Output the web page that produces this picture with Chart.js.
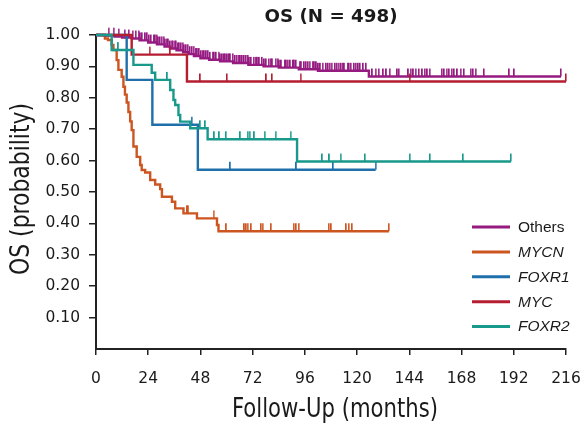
<!DOCTYPE html>
<html>
<head>
<meta charset="utf-8">
<script src="https://cdn.jsdelivr.net/npm/chart.js@4.4.1/dist/chart.umd.min.js"></script>
<style>
  body { margin: 0; background: #fff; }
  canvas { display: block; }
</style>
</head>
<body>
<canvas id="chartOS" width="583" height="426"></canvas>
<script>
// ejes
const xTicks = [0, 24, 48, 72, 96, 120, 144, 168, 192, 216];
const yTicks = [0.1, 0.2, 0.3, 0.4, 0.5, 0.6, 0.7, 0.8, 0.9, 1.0];
const grupos = ["Others", "MYCN", "FOXR1", "MYC", "FOXR2"];

// Others
const othersT = [0, 4, 8.5, 12, 16.5, 20, 24, 28, 31.5, 34, 37, 40, 42.5, 45, 48, 52, 57, 63, 70, 77, 84, 93.2, 102, 125.4];
const othersS = [1, 0.998, 0.995, 0.992, 0.989, 0.983, 0.976, 0.970, 0.963, 0.957, 0.951, 0.945, 0.939, 0.933, 0.926, 0.921, 0.916, 0.911, 0.905, 0.900, 0.896, 0.891, 0.886, 0.868];
const othersCens = [5.8, 8.1, 10.4, 13.2, 15.1, 16.8, 18.3, 19.6, 20.4, 21.2, 22.7, 23.5, 24.4, 25.3, 26.6, 27.3, 27.9, 28.7, 29.4, 30.2, 31.1, 31.8, 32.5, 33.3, 34.1, 34.7, 35.4, 36.1, 36.8, 37.6, 38.3, 39.1, 39.8, 40.6, 41.4, 42.2, 43.2, 44.1, 44.9, 45.9, 46.6, 47.4, 48.3, 49.1, 49.8, 50.7, 51.5, 52.4, 53.6, 54.4, 55.2, 56.3, 57.2, 58.1, 58.8, 59.5, 60.4, 61.1, 61.8, 62.9, 63.9, 64.7, 65.6, 66.4, 67.2, 68.1, 68.9, 69.8, 70.5, 71.3, 72.5, 73.4, 74.2, 75.1, 76.3, 77.4, 78.2, 79.4, 80.3, 81.1, 82.6, 83.5, 84.3, 85.2, 86.8, 87.5, 88.1, 89.3, 90.6, 91.2, 91.9, 93.6, 94.4, 95.7, 96.5, 97.4, 98.2, 99.6, 100.4, 101.3, 102.2, 103.1, 104.2, 105.8, 106.6, 107.4, 108.3, 109.9, 110.7, 111.5, 112.6, 113.4, 114.2, 115.7, 116.3, 117.1, 118.6, 119.4, 120.5, 121.3, 122.8, 124.1, 127, 128.5, 130, 132, 133.5, 135, 138.5, 139.2, 143.6, 144.6, 145.9, 146.9, 148.4, 150, 151.1, 152.3, 153.4, 158.9, 160, 161.1, 162.3, 163.5, 164.6, 166.1, 167.6, 169.1, 172.2, 173.3, 174.5, 178.3, 189.9, 192.2, 213.7];

// MYCN
const mycnT = [0, 4.1, 5.5, 7.2, 8, 9.5, 10.3, 11.8, 12.6, 13.3, 14.1, 14.9, 15.7, 16.4, 17.2, 18.7, 20.3, 21, 22.6, 24.9, 27.2, 29.5, 30.3, 34.9, 36.4, 40.2, 46.4, 55.6, 56.3];
const mycnS = [1, 0.989, 0.984, 0.968, 0.952, 0.92, 0.889, 0.867, 0.835, 0.81, 0.785, 0.755, 0.725, 0.697, 0.645, 0.612, 0.586, 0.57, 0.562, 0.538, 0.524, 0.509, 0.485, 0.469, 0.448, 0.432, 0.416, 0.395, 0.375];
const mycnCens = [41.8, 42.5, 54, 59.9, 68.2, 69, 69.7, 71.3, 75.9, 76.6, 80.5, 90.9, 92, 93.2, 107, 108.1, 115, 116.2, 117.7, 134.6];

// FOXR1
const foxr1T = [0, 14.1, 25.9, 46.8];
const foxr1S = [1, 0.857, 0.714, 0.571];
const foxr1Cens = [44, 61.7, 92.1, 109, 128.5];

// MYC
const mycT = [0, 16.4, 41.8];
const mycS = [1, 0.9375, 0.852];
const mycCens = [24.6, 34.1, 47.9, 60.2, 78.3, 80.9, 94, 144.2, 216];

// FOXR2
const foxr2T = [0, 7.2, 17.2, 25.6, 27.2, 34.1, 35.6, 36.4, 37.9, 38.7, 43.3, 51.3, 92.4];
const foxr2S = [1, 0.952, 0.905, 0.88, 0.857, 0.825, 0.793, 0.777, 0.745, 0.724, 0.703, 0.668, 0.597];
const foxr2Cens = [10.3, 32.8, 47.9, 50.2, 54.4, 56.7, 59.7, 66.3, 69.7, 70.6, 72.8, 77.5, 82.5, 89.4, 104, 107.3, 112.4, 123.6, 144.2, 153.5, 168.7, 190.7];

const colores = {
    Others: "#951b81",
    MYCN: "#cc5520",
    FOXR1: "#1f6fab",
    MYC: "#b51d30",
    FOXR2: "#17998b"
};

const series = {
    Others: [othersT, othersS, othersCens],
    MYCN: [mycnT, mycnS, mycnCens],
    FOXR1: [foxr1T, foxr1S, foxr1Cens],
    MYC: [mycT, mycS, mycCens],
    FOXR2: [foxr2T, foxr2S, foxr2Cens]
};

// nivel de la curva en el tiempo t
function supervAt(tiempos, surv, t) {
    let s = surv[0];
    for (let i = 0; i < tiempos.length; i++) {
        if (tiempos[i] <= t) s = surv[i];
    }
    return s;
}

// marca de censura: solo hacia arriba de la curva
function marcaCensura(color) {
    const c = document.createElement("canvas");
    c.width = 2;
    c.height = 18;
    const g = c.getContext("2d");
    g.fillStyle = color;
    g.fillRect(0, 1, 1.6, 8);
    return c;
}

const datasets = [];
grupos.forEach((nombre, idx) => {
    const [tt, ss, cc] = series[nombre];
    const fin = Math.max(tt[tt.length - 1], cc[cc.length - 1]);
    const linea = tt.map((t, i) => ({ x: t, y: ss[i] }));
    linea.push({ x: fin, y: ss[ss.length - 1] });
    const orden = 10 - idx * 2;
    datasets.push({
        label: nombre,
        data: linea,
        borderColor: colores[nombre],
        borderWidth: 2.4,
        stepped: true,
        pointRadius: 0,
        fill: false,
        clip: false,
        order: orden
    });
    datasets.push({
        label: nombre + " censura",
        data: cc.map(t => ({ x: t, y: supervAt(tt, ss, t) })),
        showLine: false,
        pointStyle: marcaCensura(colores[nombre]),
        pointRadius: 4,
        clip: false,
        order: orden - 1
    });
});

// texto estirado a un ancho fijo
function textoAncho(ctx, texto, cx, cy, font, ancho, rot) {
    ctx.save();
    ctx.font = font;
    const w = ctx.measureText(texto).width;
    ctx.translate(cx, cy);
    if (rot) ctx.rotate(rot);
    ctx.scale(ancho / w, 1);
    ctx.textAlign = "center";
    ctx.textBaseline = "middle";
    ctx.fillStyle = "#1a1a1a";
    ctx.fillText(texto, 0, 0);
    ctx.restore();
}

const textosExtra = {
    id: "textosExtra",
    afterDraw(chart) {
        const ctx = chart.ctx;
        textoAncho(ctx, "OS (N = 498)", 331, 17, "bold 18px 'DejaVu Sans'", 133);
        textoAncho(ctx, "Follow-Up (months)", 335, 410, "27px 'Liberation Sans Narrow', 'DejaVu Sans Condensed', sans-serif", 206);
        textoAncho(ctx, "OS (probability)", 22, 189, "26px 'Liberation Sans Narrow', 'DejaVu Sans Condensed', sans-serif", 172, -Math.PI / 2);

        // leyenda
        ctx.save();
        grupos.forEach((nombre, i) => {
            const y = 227 + i * 24.9;
            ctx.strokeStyle = colores[nombre];
            ctx.lineWidth = 3;
            ctx.beginPath();
            ctx.moveTo(472, y);
            ctx.lineTo(510, y);
            ctx.stroke();
            ctx.font = (nombre === "Others" ? "" : "italic ") + "15.5px 'Liberation Sans', Arial, sans-serif";
            ctx.fillStyle = "#1a1a1a";
            ctx.textAlign = "left";
            ctx.textBaseline = "middle";
            ctx.fillText(nombre, 518, y + 0.5);
        });
        ctx.restore();
    }
};

const fuenteTicks = { family: "'DejaVu Sans', sans-serif", size: 15.5 };

new Chart(document.getElementById("chartOS"), {
    type: "line",
    data: { datasets },
    options: {
        responsive: false,
        animation: false,
        devicePixelRatio: 1,
        layout: { padding: { top: 35, right: 17, left: 0, bottom: 0 } },
        plugins: { legend: { display: false }, tooltip: { enabled: false } },
        scales: {
            x: {
                type: "linear",
                min: 0,
                max: 216,
                afterBuildTicks: (scale) => { scale.ticks = xTicks.map(v => ({ value: v })); },
                afterFit: (scale) => {
                    scale.height = 77;
                    scale.paddingLeft = 0;
                    scale.paddingRight = 0;
                },
                ticks: { color: "#1a1a1a", font: fuenteTicks, padding: 15, maxRotation: 0, autoSkip: false },
                grid: { drawOnChartArea: false, drawTicks: true, tickLength: 6, color: "#222", lineWidth: 1.5 },
                border: { display: true, color: "#222", width: 2 }
            },
            y: {
                type: "linear",
                min: 0,
                max: 1,
                afterBuildTicks: (scale) => { scale.ticks = yTicks.map(v => ({ value: v })); },
                afterFit: (scale) => {
                    scale.width = 96;
                    scale.paddingTop = 0;
                    scale.paddingBottom = 0;
                },
                ticks: { color: "#1a1a1a", font: fuenteTicks, padding: 9, callback: v => v.toFixed(2) },
                grid: { drawOnChartArea: false, drawTicks: true, tickLength: 7, color: "#222", lineWidth: 1.5 },
                border: { display: true, color: "#222", width: 2 }
            }
        }
    },
    plugins: [textosExtra]
});
</script>
</body>
</html>
